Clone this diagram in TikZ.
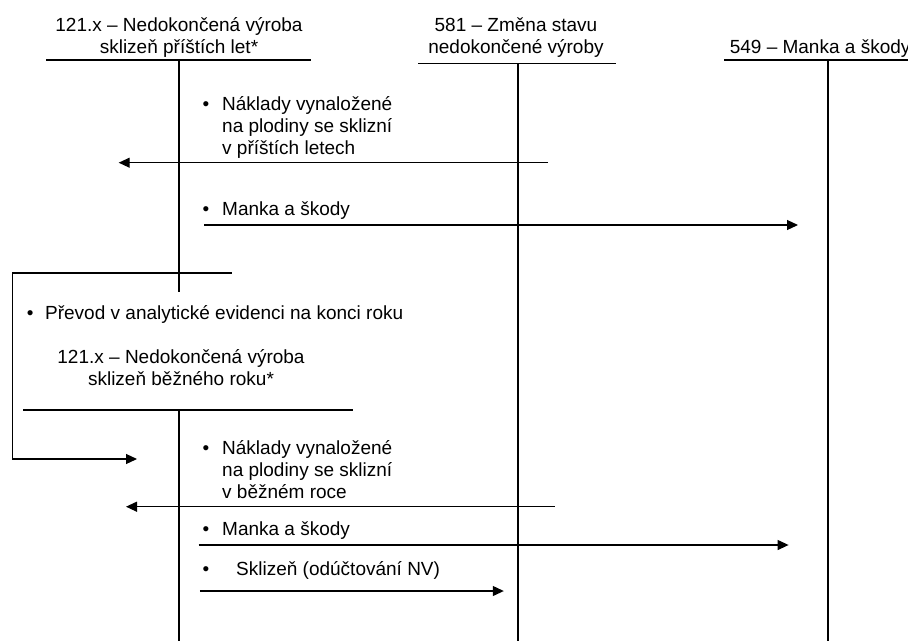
\documentclass[tikz,border=0pt]{standalone}
\usepackage{fontspec}
\setmainfont{Liberation Sans}
\usetikzlibrary{arrows.meta}
\tikzset{
  acct/.style={align=center, anchor=base, inner sep=0pt, font=\fontsize{19}{22}\selectfont},
  note/.style={align=left, anchor=base west, inner sep=0pt, font=\fontsize{19}{21.8}\selectfont},
  tline/.style={line width=1.2pt},
  flow/.style={line width=1.2pt, -{Triangle[length=11pt,width=10pt]}},
}
\newcommand{\bul}[1]{\llap{\textbullet\hspace{#1}}}
\begin{document}
\begin{tikzpicture}[x=1pt,y=-1pt]
      \useasboundingbox (0,0) rectangle (908,641);
      % accounts
      \draw
        (179,53) node[acct] (acc121){121.x – Nedokončená výroba\\sklizeň příštích let*}
        (516,53) node[acct] (acc581){581 – Změna stavu\\nedokončené výroby}
        (729.6,53) node[acct, anchor=base west] (acc549){549 – Manka a škody}
        (181,385) node[acct] (acc121b){121.x – Nedokončená výroba\\sklizeň běžného roku*};
      % notes
      \draw
        (222,154) node[note] (cost1){\bul{13pt}Náklady vynaložené\\na plodiny se sklizní\\v příštích letech}
        (222,215) node[note] (loss1){\bul{13pt}Manka a škody}
        (45,319) node[note] (move){\bul{11.7pt}Převod v analytické evidenci na konci roku}
        (222,498) node[note] (cost2){\bul{13pt}Náklady vynaložené\\na plodiny se sklizní\\v běžném roce}
        (222,535) node[note] (loss2){\bul{13pt}Manka a škody}
        (236,575) node[note] (crop){\bul{27pt}Sklizeň (odúčtování NV)};
      % T-account lines
      \path
        (46,60) coordinate (t1l) (311,60) coordinate (t1r)
        (179,60) coordinate (t1t) (179,292) coordinate (t1b)
        (418,63.5) coordinate (t2l) (615.5,63.5) coordinate (t2r)
        (518,63.5) coordinate (t2t) (518,641) coordinate (t2b)
        (724,60) coordinate (t3l) (910,60) coordinate (t3r)
        (828,60) coordinate (t3t) (828,641) coordinate (t3b)
        (23,410) coordinate (t4l) (353,410) coordinate (t4r)
        (179,410) coordinate (t4t) (179,641) coordinate (t4b)
        (231.6,273) coordinate (m1) (12.7,273) coordinate (m2)
        (12.7,459) coordinate (m3) (137,459) coordinate (m4);
      \begin{scope}[tline]
        \draw (t1l) to (t1r);
        \draw (t1t) to (t1b);
        \draw (t2l) to (t2r);
        \draw (t2t) to (t2b);
        \draw (t3l) to (t3r);
        \draw (t3t) to (t3b);
        \draw (t4l) to (t4r);
        \draw (t4t) to (t4b);
      \end{scope}
      % arrows
      \path
        (548,162.7) coordinate (a1s) (118.7,162.7) coordinate (a1e)
        (204,225) coordinate (a2s) (798,225) coordinate (a2e)
        (554.7,506.7) coordinate (a3s) (126,506.7) coordinate (a3e)
        (198.6,545) coordinate (a4s) (788.6,545) coordinate (a4e)
        (199.8,591) coordinate (a5s) (503.8,591) coordinate (a5e);
      \begin{scope}[flow]
        \draw (a1s) to (a1e);
        \draw (a2s) to (a2e);
        \draw (m1) -- (m2) -- (m3) -- (m4);
        \draw (a3s) to (a3e);
        \draw (a4s) to (a4e);
        \draw (a5s) to (a5e);
      \end{scope}
    \end{tikzpicture}
\end{document}
